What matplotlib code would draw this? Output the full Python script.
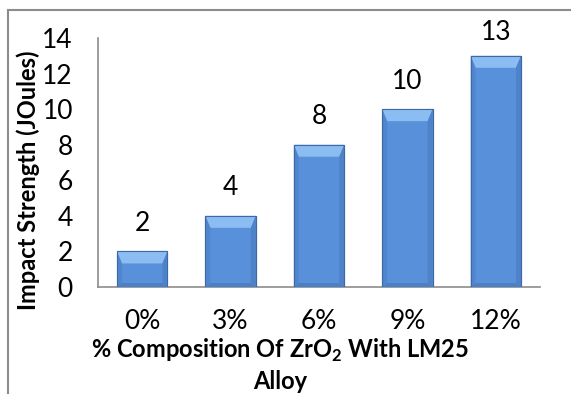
import matplotlib
matplotlib.use("Agg")
import matplotlib.pyplot as plt
from matplotlib import font_manager as fm
from matplotlib.patches import Polygon
from matplotlib.lines import Line2D

# pick a family that has a real bold face
bold_faces = {f.name for f in fm.fontManager.ttflist if f.weight in (700, "bold")}
family = "Lato" if "Lato" in bold_faces else "Open Sans"

plt.rcParams["font.family"] = [family, "DejaVu Sans"]
plt.rcParams["mathtext.fontset"] = "custom"
plt.rcParams["mathtext.rm"] = family
plt.rcParams["mathtext.bf"] = family + ":bold"

compositions = ["0%", "3%", "6%", "9%", "12%"]
impact_strength = [2, 4, 8, 10, 13]
y_ticks = [0, 2, 4, 6, 8, 10, 12, 14]

face = "#5891da"
edge = "#3d6aa6"
top_light = "#8cbdf2"
side_dark = "#4c80c6"

fig = plt.figure(figsize=(5.71, 3.94), dpi=100)
ax = fig.add_axes([98 / 571, 107 / 394, 442 / 571, 249 / 394])

x = list(range(len(compositions)))
width = 0.57
bars = ax.bar(x, impact_strength, width=width, color=face,
              edgecolor=edge, linewidth=0.8, zorder=2)

ax.set_xlim(-0.5, len(compositions) - 0.5)
ax.set_ylim(0, 14)

# bevel: pixel sizes converted to data units
px_x = 5 / 442
px_y = 14 / 249
for b in bars:
    x0, x1 = b.get_x(), b.get_x() + b.get_width()
    h = b.get_height()
    dx, dy, db = 5 * px_x, 12 * px_y, 4 * px_y
    ax.add_patch(Polygon([(x0, h), (x1, h), (x1 - dx, h - dy), (x0 + dx, h - dy)],
                         closed=True, facecolor=top_light, edgecolor="none", zorder=3))
    ax.add_patch(Polygon([(x0, h), (x0 + dx, h - dy), (x0 + dx, db), (x0, 0)],
                         closed=True, facecolor=side_dark, edgecolor="none", zorder=3, alpha=0.6))
    ax.add_patch(Polygon([(x1, h), (x1 - dx, h - dy), (x1 - dx, db), (x1, 0)],
                         closed=True, facecolor=side_dark, edgecolor="none", zorder=3, alpha=0.8))
    ax.add_patch(Polygon([(x0, 0), (x0 + dx, db), (x1 - dx, db), (x1, 0)],
                         closed=True, facecolor=side_dark, edgecolor="none", zorder=3))
    ax.add_patch(Polygon([(x0, 0), (x1, 0), (x1, h), (x0, h)], closed=True,
                         facecolor="none", edgecolor=edge, linewidth=0.8, zorder=4))

# value labels sit ~28 px above each bar, kept inside the chart area
for xi, v in zip(x, impact_strength):
    y_frac = min(v / 14 + 28 / 249, 255 / 249)
    ax.text(xi, y_frac, str(v), transform=ax.get_xaxis_transform(),
            ha="center", va="center", fontsize=19, color="#000000")

ax.set_xticks(x)
ax.set_xticklabels(compositions)
ax.set_yticks(y_ticks)
ax.tick_params(axis="both", length=0, labelsize=19)
ax.tick_params(axis="y", pad=18)
ax.tick_params(axis="x", pad=16)

for side in ["top", "right"]:
    ax.spines[side].set_visible(False)
for side in ["left", "bottom"]:
    ax.spines[side].set_color("#8c8c8c")
    ax.spines[side].set_linewidth(1.2)

fig.text(28 / 571, 1 - 180 / 394, "Impact Strength (JOules)", rotation=90,
         ha="center", va="center", fontsize=17, fontweight="bold")
fig.text(280 / 571, 1 - 365 / 394,
         "% Composition Of ZrO$_\\mathbf{2}$ With LM25\nAlloy",
         ha="center", va="center", fontsize=17, fontweight="bold",
         linespacing=1.3, multialignment="center")

# outer chart frame
fig.add_artist(Line2D([8 / 571, 1], [1 - 9.5 / 394] * 2, color="#8c8c8c", linewidth=1.5))
fig.add_artist(Line2D([8 / 571] * 2, [0, 1 - 9.5 / 394], color="#8c8c8c", linewidth=1.5))

fig.savefig("out.png", dpi=100)
